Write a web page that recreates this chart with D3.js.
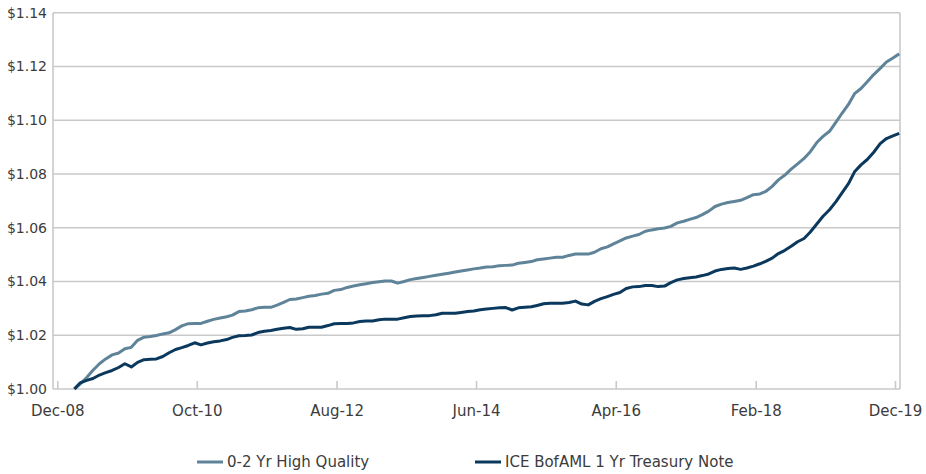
<!DOCTYPE html>
<html>
<head>
<meta charset="utf-8">
<script src="https://cdn.jsdelivr.net/npm/d3@7"></script>
<style>
  html, body { margin: 0; padding: 0; background: #ffffff; }
  svg { display: block; }
  text { font-family: "DejaVu Sans", sans-serif; fill: #3c3c3c; }
</style>
</head>
<body>
<svg id="chart" width="926" height="474"></svg>
<script>
// ---------- data ----------
const seriesNames = ["0-2 Yr High Quality", "ICE BofAML 1 Yr Treasury Note"];
const firstMonth = "2009-02";   // first monthly observation
const highQuality = [
  1.0000, 1.0019, 1.0043, 1.0070, 1.0094, 1.0112, 1.0127, 1.0134, 1.0150, 1.0155,
  1.0181, 1.0193, 1.0195, 1.0199, 1.0205, 1.0209, 1.0221, 1.0235, 1.0243, 1.0244,
  1.0244, 1.0252, 1.0259, 1.0264, 1.0269, 1.0275, 1.0288, 1.0290, 1.0295, 1.0302,
  1.0304, 1.0304, 1.0312, 1.0322, 1.0333, 1.0335, 1.0340, 1.0345, 1.0348, 1.0353,
  1.0356, 1.0367, 1.0370, 1.0378, 1.0383, 1.0388, 1.0392, 1.0396, 1.0399, 1.0402,
  1.0402, 1.0394, 1.0400, 1.0407, 1.0411, 1.0415, 1.0419, 1.0423, 1.0427, 1.0431,
  1.0435, 1.0439, 1.0443, 1.0447, 1.0450, 1.0454, 1.0455, 1.0459, 1.0460, 1.0461,
  1.0468, 1.0471, 1.0474, 1.0481, 1.0484, 1.0487, 1.0490, 1.0490, 1.0497, 1.0502,
  1.0502, 1.0502, 1.0509, 1.0522, 1.0529, 1.0540, 1.0551, 1.0562, 1.0569, 1.0575,
  1.0587, 1.0592, 1.0596, 1.0599, 1.0605, 1.0618, 1.0624, 1.0631, 1.0638, 1.0649,
  1.0662, 1.0679, 1.0688, 1.0694, 1.0698, 1.0702, 1.0712, 1.0723, 1.0726, 1.0735,
  1.0754, 1.0778, 1.0796, 1.0818, 1.0838, 1.0858, 1.0883, 1.0917, 1.0940, 1.0959,
  1.0993, 1.1025, 1.1058, 1.1099, 1.1118, 1.1143, 1.1170, 1.1193, 1.1217, 1.1232,
  1.1247
];
const treasuryNote = [
  1.0000, 1.0023, 1.0032, 1.0039, 1.0052, 1.0061, 1.0069, 1.0080, 1.0094, 1.0082,
  1.0099, 1.0109, 1.0111, 1.0112, 1.0121, 1.0135, 1.0147, 1.0154, 1.0162, 1.0172,
  1.0164, 1.0171, 1.0176, 1.0179, 1.0184, 1.0192, 1.0198, 1.0199, 1.0201, 1.0210,
  1.0215, 1.0218, 1.0222, 1.0226, 1.0229, 1.0222, 1.0224, 1.0230, 1.0230, 1.0230,
  1.0236, 1.0243, 1.0244, 1.0244, 1.0246, 1.0251, 1.0253, 1.0253, 1.0258, 1.0260,
  1.0260, 1.0260, 1.0265, 1.0270, 1.0272, 1.0273, 1.0273, 1.0276, 1.0282, 1.0282,
  1.0282, 1.0285, 1.0288, 1.0290, 1.0295, 1.0298, 1.0300, 1.0302, 1.0303, 1.0294,
  1.0302, 1.0304, 1.0306, 1.0311, 1.0317, 1.0319, 1.0319, 1.0319, 1.0322, 1.0327,
  1.0316, 1.0313, 1.0326, 1.0336, 1.0344, 1.0352, 1.0359, 1.0374, 1.0380, 1.0381,
  1.0385, 1.0385, 1.0381, 1.0383, 1.0396, 1.0406, 1.0411, 1.0414, 1.0417, 1.0422,
  1.0428, 1.0439, 1.0445, 1.0448, 1.0450, 1.0445, 1.0450, 1.0457, 1.0466, 1.0475,
  1.0487, 1.0504, 1.0516, 1.0531, 1.0548, 1.0560, 1.0584, 1.0614, 1.0643, 1.0667,
  1.0697, 1.0729, 1.0763, 1.0808, 1.0834, 1.0854, 1.0881, 1.0913, 1.0932, 1.0942,
  1.0951
];
const xTickLabels = ["Dec-08", "Oct-10", "Aug-12", "Jun-14", "Apr-16", "Feb-18", "Dec-19"];
const yTickValues = [1.00, 1.02, 1.04, 1.06, 1.08, 1.10, 1.12, 1.14];
const colors = ["#5f8398", "#0b385d"];

// ---------- layout ----------
const svg = d3.select("#chart");
const plot = { left: 53, right: 900, top: 12.75, bottom: 389 };
const parseTick = d3.timeParse("%b-%y");
const tickDates = xTickLabels.map(parseTick);

const x = d3.scaleTime()
  .domain([tickDates[0], tickDates[tickDates.length - 1]])
  .range([57.3, 895]);
const y = d3.scaleLinear()
  .domain([1.00, 1.14])
  .range([plot.bottom, plot.top]);

const start = d3.timeParse("%Y-%m")(firstMonth);
const obsDate = i => d3.timeDay.offset(d3.timeMonth.offset(start, i), 20);
const dataA = highQuality.map((v, i) => ({ date: obsDate(i), value: v }));
const dataB = treasuryNote.map((v, i) => ({ date: obsDate(i), value: v }));

const gridColor = "#c9c9c9";

// horizontal gridlines
svg.append("g")
  .selectAll("line")
  .data(yTickValues.filter(v => v > 1.0))
  .join("line")
  .attr("x1", plot.left).attr("x2", plot.right)
  .attr("y1", d => y(d)).attr("y2", d => y(d))
  .attr("stroke", gridColor).attr("stroke-width", 1.6);

// left and right borders
svg.append("line")
  .attr("x1", plot.left).attr("x2", plot.left)
  .attr("y1", plot.top).attr("y2", plot.bottom)
  .attr("stroke", gridColor).attr("stroke-width", 1.6);
svg.append("line")
  .attr("x1", plot.right).attr("x2", plot.right)
  .attr("y1", plot.top).attr("y2", plot.bottom)
  .attr("stroke", gridColor).attr("stroke-width", 1.6);

// y axis labels
const yAxis = d3.axisLeft(y)
  .tickValues(yTickValues)
  .tickFormat(d => "$" + d3.format(".2f")(d))
  .tickSize(0)
  .tickPadding(6);
const gy = svg.append("g")
  .attr("transform", `translate(${plot.left},0)`)
  .call(yAxis);
gy.select(".domain").remove();
gy.selectAll("text")
  .attr("font-size", 14)
  .attr("font-family", "DejaVu Sans, sans-serif")
  .attr("fill", "#3c3c3c");

// x axis
const xAxis = d3.axisBottom(x)
  .tickValues(tickDates)
  .tickFormat((d, i) => xTickLabels[i])
  .tickSize(-8)
  .tickPadding(16);
const gx = svg.append("g")
  .attr("transform", `translate(0,${plot.bottom})`)
  .call(xAxis);
gx.select(".domain")
  .attr("d", `M${plot.left},0H${plot.right}`)
  .attr("stroke", gridColor).attr("stroke-width", 1.6);
gx.selectAll(".tick line").attr("stroke", gridColor).attr("stroke-width", 1.6);
gx.selectAll("text")
  .attr("font-size", 15)
  .attr("font-family", "DejaVu Sans, sans-serif")
  .attr("fill", "#3c3c3c");

// lines
const line = d3.line()
  .x(d => x(d.date))
  .y(d => y(d.value));

svg.append("path")
  .datum(dataA)
  .attr("fill", "none")
  .attr("stroke", colors[0])
  .attr("stroke-width", 3)
  .attr("stroke-linejoin", "round")
  .attr("d", line);

svg.append("path")
  .datum(dataB)
  .attr("fill", "none")
  .attr("stroke", colors[1])
  .attr("stroke-width", 3)
  .attr("stroke-linejoin", "round")
  .attr("d", line);

// legend
const legendItems = [
  { name: seriesNames[0], color: colors[0], x: 197 },
  { name: seriesNames[1], color: colors[1], x: 475 }
];
const lg = svg.append("g").attr("transform", "translate(0,462)");
const li = lg.selectAll("g").data(legendItems).join("g")
  .attr("transform", d => `translate(${d.x},0)`);
li.append("line")
  .attr("x1", 0).attr("x2", 26)
  .attr("y1", 0).attr("y2", 0)
  .attr("stroke", d => d.color)
  .attr("stroke-width", 3);
li.append("text")
  .attr("x", 30)
  .attr("dy", "0.36em")
  .attr("font-size", 15)
  .text(d => d.name);
</script>
</body>
</html>
